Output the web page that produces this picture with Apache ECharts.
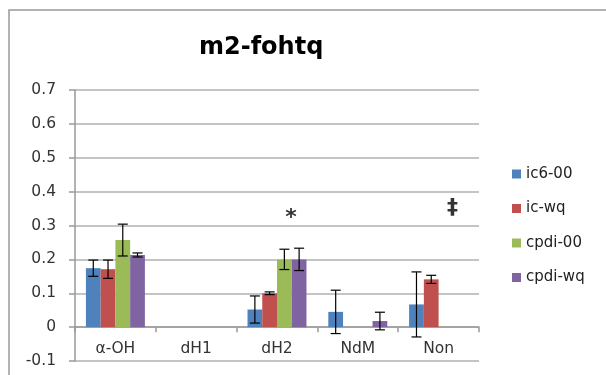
<!DOCTYPE html>
<html>
<head>
<meta charset="utf-8">
<script src="https://cdn.jsdelivr.net/npm/echarts@6/dist/echarts.min.js"></script>
<style>html,body{margin:0;padding:0;background:#fff}#c{width:606px;height:375px}</style>
</head>
<body>
<div id="c"></div>
<script>
var categories = ['α-OH', 'dH1', 'dH2', 'NdM', 'Non'];
var seriesNames = ['ic6-00', 'ic-wq', 'cpdi-00', 'cpdi-wq'];
var ic600 = [0.174, null, 0.052, 0.045, 0.067];
var icwq = [0.171, null, 0.100, null, 0.141];
var cpdi00 = [0.257, null, 0.200, null, null];
var cpdiwq = [0.213, null, 0.200, 0.018, null];
var ic600Err = [0.024, null, 0.040, 0.064, 0.096];
var icwqErr = [0.027, null, 0.004, null, 0.012];
var cpdi00Err = [0.047, null, 0.030, null, null];
var cpdiwqErr = [0.006, null, 0.033, 0.026, null];
var yTicks = [-0.1, 0, 0.1, 0.2, 0.3, 0.4, 0.5, 0.6, 0.7];
var marks = [['dH2', 0.322, '*'], ['Non', 0.35, '‡']];

var values = [ic600, icwq, cpdi00, cpdiwq];
var errs = [ic600Err, icwqErr, cpdi00Err, cpdiwqErr];
var colors = ['#4f81bd', '#c0504d', '#9bbb59', '#8064a2'];
var gapRatio = 0.27;
var font = 'DejaVu Sans';
var W = 606, H = 375;
var gridBox = { left: 75, right: 127, top: 90, bottom: 14 };
var yMin = yTicks[0], yMax = yTicks[yTicks.length - 1];
var gridH = H - gridBox.top - gridBox.bottom;
var zeroOffset = -(0 - yMin) / (yMax - yMin) * gridH;

var series = [];
values.forEach(function (arr, i) {
  series.push({
    name: seriesNames[i], type: 'bar', data: arr.map(function (v) { return v === null ? '-' : v; }),
    barGap: 0, barCategoryGap: (gapRatio * 100) + '%',
    itemStyle: { color: colors[i] }, z: 2
  });
});
values.forEach(function (arr, i) {
  var d = [];
  arr.forEach(function (v, k) {
    if (v !== null && errs[i][k] !== null) d.push([k, v - errs[i][k], v + errs[i][k]]);
  });
  series.push({
    type: 'custom', name: 'err' + i, data: d, z: 5, silent: true,
    encode: { x: 0, y: [1, 2] },
    renderItem: (function (idx) {
      return function (params, api) {
        var band = api.size([1, 0])[0];
        var bw = band * (1 - gapRatio) / 4;
        var off = (idx - 1.5) * bw;
        var lo = api.coord([api.value(0), api.value(1)]);
        var hi = api.coord([api.value(0), api.value(2)]);
        var x = lo[0] + off, cap = 5;
        var st = { stroke: '#000', lineWidth: 1.2 };
        return { type: 'group', children: [
          { type: 'line', shape: { x1: x, y1: lo[1], x2: x, y2: hi[1] }, style: st },
          { type: 'line', shape: { x1: x - cap, y1: lo[1], x2: x + cap, y2: lo[1] }, style: st },
          { type: 'line', shape: { x1: x - cap, y1: hi[1], x2: x + cap, y2: hi[1] }, style: st }
        ] };
      };
    })(i)
  });
});
series.push({
  type: 'scatter', name: 'marks', symbolSize: 0, silent: true,
  data: marks.map(function (m) { return { value: [m[0], m[1]], label: { formatter: m[2] } }; }),
  label: { show: true, position: 'inside', offset: [14, 0], fontSize: 22, fontWeight: 'bold', color: '#000', fontFamily: font }
});

var chart = echarts.init(document.getElementById('c'));
chart.setOption({
  animation: false,
  title: { text: 'm2-fohtq', left: 194, top: 31, textStyle: { fontFamily: font, fontSize: 24, fontWeight: 'bold', color: '#000' } },
  graphic: [{ type: 'rect', shape: { x: 9, y: 10, width: 800, height: 600 }, style: { fill: 'none', stroke: '#999', lineWidth: 1.5 }, silent: true }],
  legend: {
    orient: 'vertical', left: 512, top: 166, padding: 0, data: seriesNames,
    itemWidth: 9, itemHeight: 9, itemGap: 18.5, icon: 'rect',
    textStyle: { fontFamily: font, fontSize: 15, color: '#222', lineHeight: 16 }
  },
  grid: { left: gridBox.left, right: gridBox.right, top: gridBox.top, bottom: gridBox.bottom, containLabel: false, outerBoundsMode: 'none' },
  xAxis: {
    type: 'category', data: categories, position: 'bottom', offset: zeroOffset,
    axisLine: { onZero: false, lineStyle: { color: '#999', width: 1.5 } },
    axisTick: { show: true, length: 5, lineStyle: { color: '#999', width: 1.5 } },
    axisLabel: { margin: 14, fontFamily: font, fontSize: 15.5, color: '#333' },
    splitLine: { show: false }
  },
  yAxis: {
    type: 'value', min: yMin, max: yMax, interval: 0.1,
    axisLine: { show: true, lineStyle: { color: '#999', width: 1.5 } },
    axisTick: { show: true, length: 6, lineStyle: { color: '#999', width: 1.5 } },
    axisLabel: { margin: 19, fontFamily: font, fontSize: 15.5, color: '#333',
      formatter: function (v) { var r = Math.round(v * 10) / 10; return r === 0 ? '0' : String(r); } },
    splitLine: { show: true, lineStyle: { color: '#b0b0b0', width: 1.5 } }
  },
  series: series
});
</script>
</body>
</html>
